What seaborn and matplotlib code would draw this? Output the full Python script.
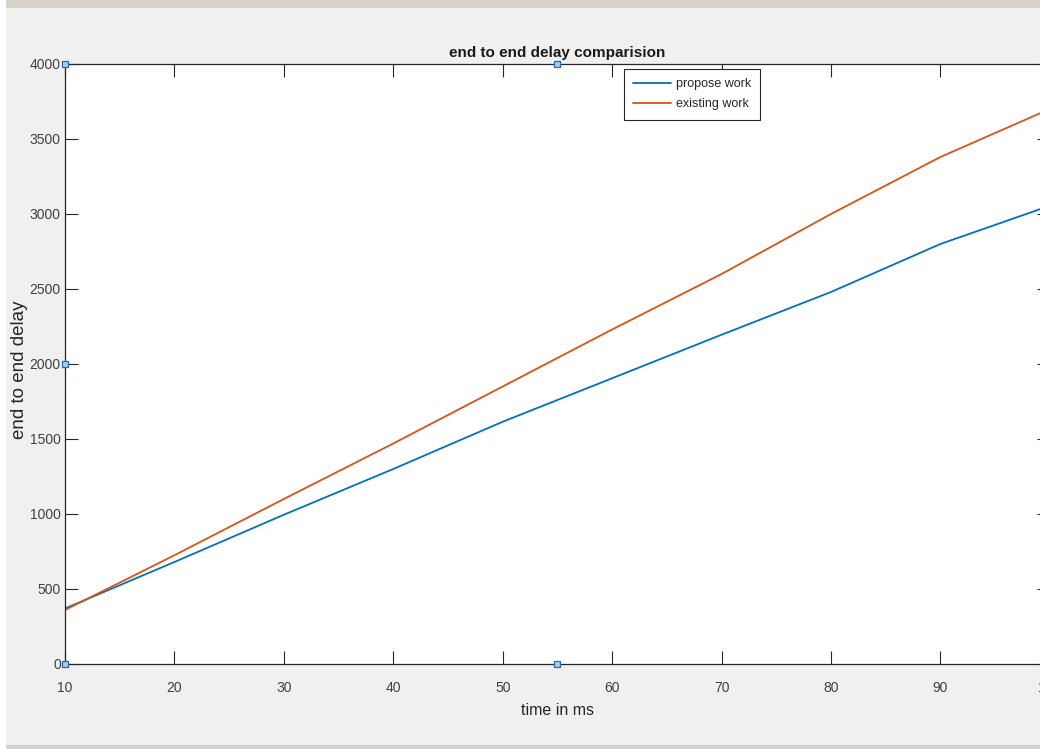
import matplotlib
matplotlib.use("Agg")
import matplotlib.pyplot as plt
import seaborn as sns
import pandas as pd
from matplotlib.patches import Rectangle

# values
time_ms = [10, 20, 30, 40, 50, 60, 70, 80, 90, 100]
propose_work = [370, 680, 995, 1300, 1615, 1905, 2195, 2480, 2800, 3055]
existing_work = [360, 725, 1100, 1470, 1850, 2230, 2600, 3000, 3380, 3700]
series_names = ["propose work", "existing work"]
x_ticks = [10, 20, 30, 40, 50, 60, 70, 80, 90, 100]
y_ticks = [0, 500, 1000, 1500, 2000, 2500, 3000, 3500, 4000]

sns.set_style("ticks")
plt.rcParams['font.family'] = ['Liberation Sans', 'DejaVu Sans']

df = pd.DataFrame({
    "time": time_ms * 2,
    "delay": propose_work + existing_work,
    "series": [series_names[0]] * len(time_ms) + [series_names[1]] * len(time_ms),
})

BG = "#F0F0F0"
TXT = "#404040"
fig = plt.figure(figsize=(10.4, 7.49), dpi=100, facecolor=BG)
# window frame lines
fig.patches.append(Rectangle((0, 0.989), 1, 0.011, transform=fig.transFigure,
                             facecolor="#D6D2CA", edgecolor="none", zorder=0))
fig.patches.append(Rectangle((0, 0), 1, 0.006, transform=fig.transFigure,
                             facecolor="#D6D2CA", edgecolor="none", zorder=0))
fig.patches.append(Rectangle((0, 0), 0.006, 1, transform=fig.transFigure,
                             facecolor="white", edgecolor="none", zorder=0))

ax = fig.add_axes([0.0625, 0.1135, 0.947, 0.8011])
ax.set_facecolor("white")

sns.lineplot(data=df, x="time", y="delay", hue="series",
             palette=["#0072BD", "#D95319"], linewidth=1.3, ax=ax)

ax.set_xlim(10, 100)
ax.set_ylim(0, 4000)
ax.set_xticks(x_ticks)
ax.set_yticks(y_ticks)
ax.set_xticklabels([str(t) for t in x_ticks], fontsize=10, color=TXT)
ax.set_yticklabels([str(t) for t in y_ticks], fontsize=10, color=TXT)
ax.tick_params(direction="in", length=9.5, width=0.8, color="#262626",
               top=True, right=True)
ax.tick_params(axis="x", pad=12)
ax.tick_params(axis="y", pad=3)
for s in ax.spines.values():
    s.set_visible(True)
    s.set_color("#262626")
    s.set_linewidth(0.9)

ax.set_title("end to end delay comparision", fontsize=11, fontweight="bold",
             color="#1a1a1a", pad=5)
ax.set_xlabel("time in ms", fontsize=11.5, color="#262626", labelpad=6)
ax.set_ylabel("end to end delay", fontsize=13.5, color="#262626")
ax.yaxis.set_label_coords(-0.0375, 0.49)

leg = ax.legend(loc="upper left", bbox_to_anchor=(0.5675, 0.992),
                borderaxespad=0, fontsize=9, fancybox=False, framealpha=1,
                edgecolor="#262626", handlelength=3.0, handletextpad=0.4,
                borderpad=0.75, labelspacing=0.65, title=None)
leg.get_frame().set_linewidth(0.8)
for t in leg.get_texts():
    t.set_color("#262626")

# selection handles on the axes box
hx = [10, 55, 10, 10, 55]
hy = [4000, 4000, 2000, 0, 0]
ax.plot(hx, hy, linestyle="none", marker="s", markersize=5,
        markerfacecolor="#A8CCEB", markeredgecolor="#1F6FB5",
        markeredgewidth=0.9, clip_on=False, zorder=10)

fig.savefig("out.png", dpi=100, facecolor=BG)
